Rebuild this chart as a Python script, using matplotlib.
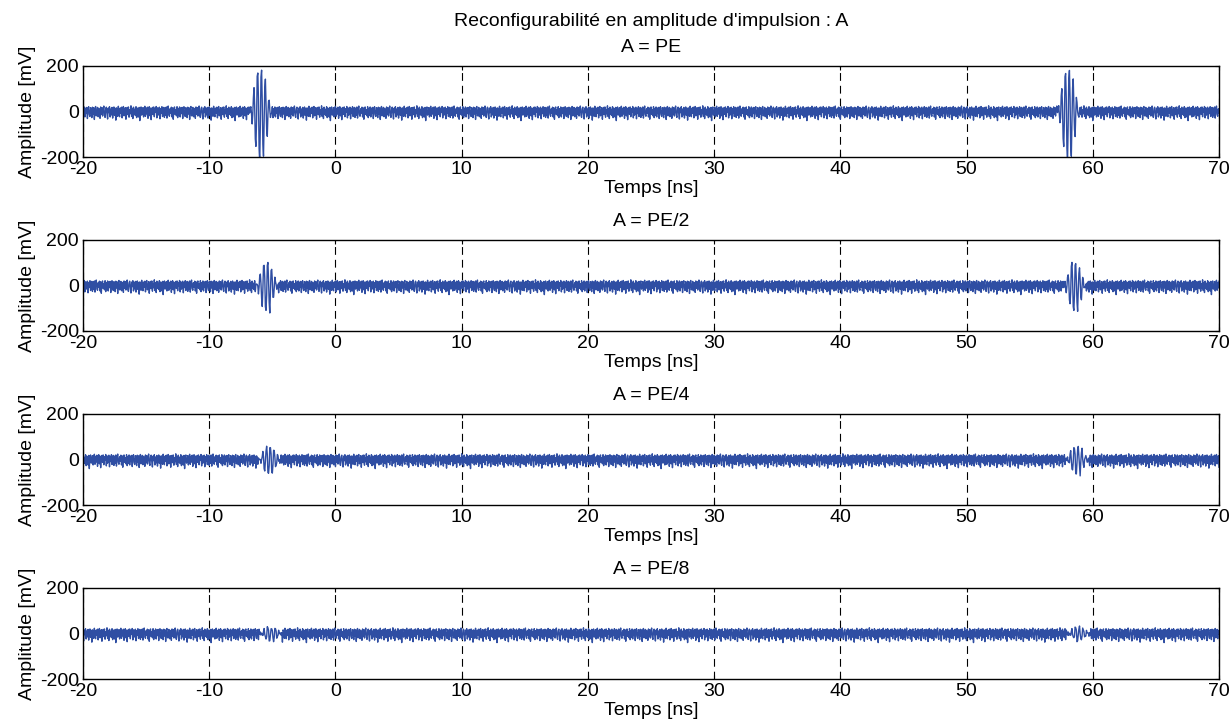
import numpy as np
import matplotlib
matplotlib.use('Agg')
import matplotlib.pyplot as plt

plt.rcParams['font.family'] = ['Liberation Sans', 'DejaVu Sans']
plt.rcParams['font.size'] = 14
plt.rcParams['axes.unicode_minus'] = False

titles = ['A = PE', 'A = PE/2', 'A = PE/4', 'A = PE/8']
suptitle = "Reconfigurabilité en amplitude d'impulsion : A"

# time axis (ns), sample step 0.05 ns
t_start, t_stop, dt = -20.0, 70.0, 0.05

# background noise samples (mV), read by eye, repeated along the trace
noise = [12, -18, 20, -24, 15, -9, 18, -31, 10, 21, -14, -22, 17, 6, -27, 19, -11, 16, -35, 13,
         22, -19, -8, 18, -23, 14, 4, -30, 20, -12, 17, -20, 9, 24, -16, -26, 12, 19, -10, -33,
         15, -5, 21, -24, 11, -15, 18, -29, 7, 20, -17, 14, -38, 16, 9, -21, 23, -11, -23, 15,
         -7, 19, -28, 12, 22, -19, -4, 17, -34, 11, 18, -14, 20, -25, 8, -10, 25, -22, 13, -31,
         19, -13, 10, -18, 21, -27, 15, 5, -24, 18, -40, 12, 20, -16, -6, 17, -24, 11, 23, -21,
         14, -11, 19, -30, 9, 21, -19, 15, -36, 7, 18, -13, 20, -23, 12, -4, 22, -28, 16, -16,
         10, 19, -32, 13, -9, 21, -22, 5, 18, -26, 15, -17, 20, -29, 9, 24, -14, -21, 12, -7,
         19, -24, 16, -34, 11, 20, -13, 8, -19, 21, -27]
noise_shift = [0, 37, 71, 113]

# normalised burst waveform (about 1 ns long)
burst = [0.0, 0.05, 0.12, -0.08, -0.25, -0.1, 0.35, 0.55, 0.1, -0.6, -0.85, -0.2, 0.8,
         0.95, 0.3, -0.9, -1.15, -0.35, 0.85, 0.95, 0.3, -0.8, -1.1, -0.25, 0.6, 0.75,
         0.15, -0.45, -0.55, -0.1, 0.3, 0.25, 0.0, -0.12, -0.08, 0.0]
burst_amp = [185, 100, 58, 30]
burst_t = [[-6.8, 57.2], [-6.3, 57.7], [-6.1, 57.9], [-6.0, 58.0]]

t = np.arange(t_start, t_stop + dt / 2, dt)
n = len(t)
color = '#2f4ea3'

fig, axes = plt.subplots(4, 1, figsize=(12.31, 7.23), dpi=100)
tops = [66, 240, 414, 588]
for i, ax in enumerate(axes):
    ax.set_position([83 / 1231, 1 - (tops[i] + 91) / 723, 1136 / 1231, 91 / 723])
    y = np.resize(np.roll(noise, noise_shift[i]), n).astype(float)
    for tb in burst_t[i]:
        k = int(round((tb - t_start) / dt))
        for j, b in enumerate(burst):
            y[k + j] = burst_amp[i] * b + 0.3 * y[k + j]
    ax.plot(t, y, color=color, lw=1.0)
    ax.set_xlim(-20, 70)
    ax.set_ylim(-200, 200)
    ax.set_xticks(range(-20, 71, 10))
    ax.set_yticks([-200, 0, 200])
    ax.tick_params(direction='in', top=True, right=True, length=3, pad=3, labelsize=14)
    ax.grid(axis='x', color='k', linestyle=(0, (7, 4.5)), lw=0.8)
    for s in ax.spines.values():
        s.set_linewidth(1.0)
    ax.set_xlabel('Temps [ns]', labelpad=1)
    ax.set_ylabel('Amplitude [mV]', labelpad=3)
    ax.set_title(titles[i], pad=10, fontsize=14)

fig.text((83 + 568) / 1231, 1 - 21 / 723, suptitle, ha='center', va='center', fontsize=14)

fig.savefig('out.png', dpi=100)
